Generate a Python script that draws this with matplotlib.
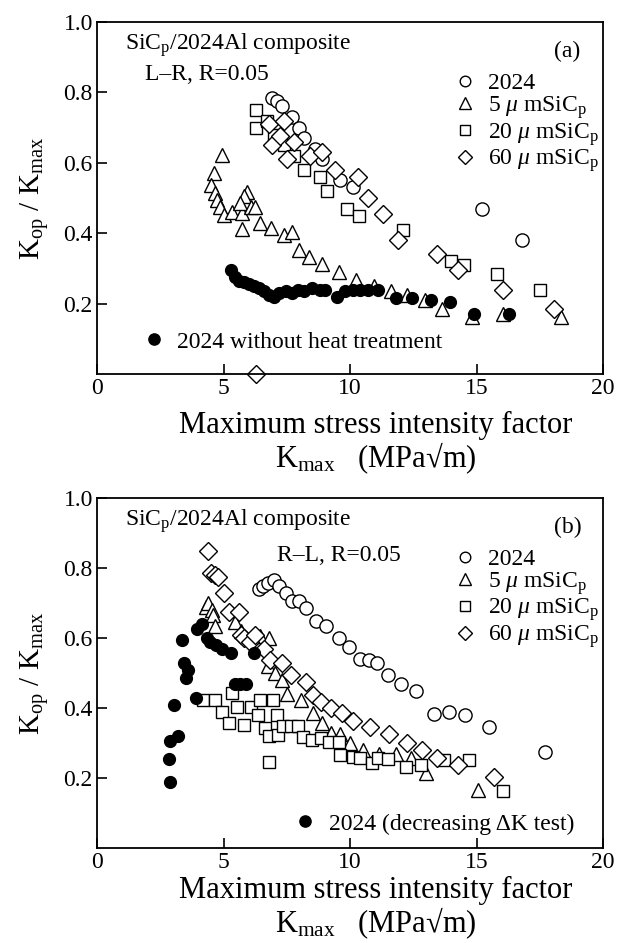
import matplotlib
matplotlib.use('Agg')
import matplotlib.pyplot as plt

plt.rcParams['font.family'] = ['Liberation Serif', 'DejaVu Serif']
plt.rcParams['mathtext.fontset'] = 'custom'
plt.rcParams['mathtext.rm'] = 'Liberation Serif'
plt.rcParams['mathtext.it'] = 'Liberation Serif:italic'
plt.rcParams['mathtext.bf'] = 'Liberation Serif:bold'

# ---- panel (a): L-R, R=0.05 ----
circles_a_x = [6.9, 7.1, 7.3, 7.7, 8.0, 8.2, 8.6, 8.9, 9.6, 10.1, 15.2, 16.8]
circles_a_y = [0.785, 0.775, 0.76, 0.73, 0.70, 0.67, 0.64, 0.61, 0.55, 0.53, 0.47, 0.38]

tri_a_x = [4.95, 4.62, 4.49, 4.68, 4.75, 4.88, 5.0, 5.34, 5.74, 5.94, 5.8, 5.67, 6.07, 6.26,
           5.74, 6.46, 6.86, 7.38, 7.71, 7.98, 8.37, 8.9, 9.56, 10.22, 10.94, 11.6, 12.26,
           12.98, 13.64, 14.83, 16.05, 18.32]
tri_a_y = [0.623, 0.57, 0.537, 0.513, 0.494, 0.475, 0.451, 0.461, 0.456, 0.518, 0.505, 0.485,
           0.475, 0.475, 0.413, 0.428, 0.414, 0.394, 0.404, 0.351, 0.332, 0.313, 0.29, 0.266,
           0.251, 0.237, 0.223, 0.209, 0.185, 0.161, 0.17, 0.161]

sq_a_x = [6.3, 6.3, 6.7, 7.0, 7.4, 7.8, 8.2, 8.8, 9.1, 9.9, 10.35, 12.1, 14.0, 14.5, 15.8, 17.5]
sq_a_y = [0.75, 0.70, 0.72, 0.68, 0.65, 0.62, 0.58, 0.56, 0.52, 0.47, 0.45, 0.41, 0.32, 0.31,
          0.285, 0.24]

dia_a_x = [6.3, 6.8, 6.9, 7.25, 7.4, 7.5, 7.8, 8.4, 8.9, 9.4, 10.3, 10.7, 11.3, 11.9, 13.45,
           14.25, 16.05, 18.05]
dia_a_y = [0.0, 0.71, 0.65, 0.675, 0.72, 0.61, 0.66, 0.62, 0.63, 0.58, 0.56, 0.50, 0.455, 0.38,
           0.34, 0.295, 0.24, 0.185]

filled_a_x = [5.3, 5.45, 5.6, 5.8, 6.0, 6.2, 6.4, 6.6, 6.8, 7.0, 7.2, 7.45, 7.7, 7.95, 8.2, 8.5,
              8.8, 9.0, 9.5, 9.8, 10.1, 10.4, 10.7, 11.1, 11.8, 12.45, 13.2, 13.95, 14.9, 16.3]
filled_a_y = [0.295, 0.275, 0.265, 0.26, 0.255, 0.25, 0.245, 0.235, 0.225, 0.22, 0.23, 0.235,
              0.23, 0.24, 0.235, 0.245, 0.24, 0.24, 0.22, 0.235, 0.24, 0.24, 0.24, 0.24, 0.215,
              0.215, 0.21, 0.205, 0.17, 0.17]

# ---- panel (b): R-L, R=0.05 ----
circles_b_x = [6.4, 6.55, 6.75, 7.0, 7.2, 7.45, 7.7, 8.0, 8.25, 8.65, 9.05, 9.55, 9.95, 10.4,
               10.75, 11.05, 11.5, 12.0, 12.6, 13.3, 13.9, 14.55, 15.5, 17.7]
circles_b_y = [0.74, 0.75, 0.757, 0.765, 0.75, 0.73, 0.705, 0.705, 0.685, 0.65, 0.635, 0.6,
               0.575, 0.54, 0.537, 0.528, 0.495, 0.47, 0.45, 0.383, 0.388, 0.38, 0.347, 0.273]

tri_b_x = [4.3, 4.4, 4.55, 4.6, 4.65, 5.45, 5.7, 6.45, 6.8, 6.75, 7.05, 7.3, 7.5, 8.05, 8.55,
           8.9, 9.25, 9.6, 10.0, 10.5, 11.15, 11.8, 12.4, 13.0, 15.05]
tri_b_y = [0.69, 0.70, 0.68, 0.665, 0.635, 0.645, 0.62, 0.605, 0.60, 0.52, 0.50, 0.48, 0.44,
           0.423, 0.385, 0.356, 0.328, 0.325, 0.30, 0.28, 0.27, 0.27, 0.256, 0.213, 0.166]

sq_b_x = [4.2, 4.65, 4.95, 5.2, 5.35, 5.55, 5.8, 6.1, 6.35, 6.45, 6.65, 6.8, 6.8, 6.95, 7.1,
          7.15, 7.35, 7.65, 7.95, 8.15, 8.5, 8.85, 9.15, 9.55, 9.6, 10.1, 10.4, 10.85, 11.1,
          11.5, 12.2, 12.8, 13.7, 14.7, 16.05]
sq_b_y = [0.423, 0.423, 0.39, 0.356, 0.442, 0.404, 0.351, 0.404, 0.38, 0.423, 0.342, 0.32,
          0.245, 0.423, 0.38, 0.323, 0.35, 0.35, 0.35, 0.318, 0.309, 0.313, 0.302, 0.304,
          0.266, 0.261, 0.256, 0.242, 0.256, 0.254, 0.232, 0.237, 0.251, 0.251, 0.163]

dia_b_x = [4.4, 4.5, 4.65, 4.8, 5.0, 5.2, 5.6, 5.7, 5.8, 6.05, 6.25, 6.6, 6.85, 7.3, 7.65, 8.25,
           8.55, 8.85, 9.25, 9.7, 10.1, 10.8, 11.55, 12.25, 12.85, 13.45, 14.25, 15.7]
dia_b_y = [0.85, 0.785, 0.78, 0.775, 0.728, 0.675, 0.675, 0.61, 0.60, 0.59, 0.61, 0.568, 0.537,
           0.53, 0.494, 0.475, 0.437, 0.418, 0.40, 0.385, 0.363, 0.345, 0.325, 0.30, 0.28,
           0.256, 0.237, 0.204]

filled_b_x = [2.9, 2.85, 2.9, 3.2, 3.05, 3.9, 3.5, 3.6, 3.45, 3.35, 3.95, 4.15, 4.35, 4.45,
              4.7, 4.95, 5.3, 6.2, 5.45, 5.65, 5.9]
filled_b_y = [0.19, 0.255, 0.305, 0.32, 0.41, 0.43, 0.485, 0.51, 0.53, 0.595, 0.625, 0.64,
              0.60, 0.59, 0.58, 0.57, 0.556, 0.556, 0.468, 0.468, 0.468]

xticks = [0, 5, 10, 15, 20]
yticks = [0.2, 0.4, 0.6, 0.8, 1.0]
open_labels = ['2024', r'5 $\mu$ mSiC$_\mathrm{p}$', r'20 $\mu$ mSiC$_\mathrm{p}$',
               r'60 $\mu$ mSiC$_\mathrm{p}$']

FS = 17


def draw_panel(ax, data, filled_label, letter, cond_text, cond_pos, filled_anchor):
    (cx, cy), (tx, ty), (sx, sy), (dx, dy), (fx, fy) = data
    kw = dict(linestyle='none', mfc='white', mec='black', mew=1.0, clip_on=False)
    h1, = ax.plot(cx, cy, marker='o', ms=9.5, **kw)
    h2, = ax.plot(tx, ty, marker='^', ms=10, **kw)
    h3, = ax.plot(sx, sy, marker='s', ms=9, **kw)
    h4, = ax.plot(dx, dy, marker='D', ms=9.5, **kw)
    hf, = ax.plot(fx, fy, marker='o', ms=8.5, linestyle='none', color='black', clip_on=False)

    ax.set_xlim(0, 20)
    ax.set_ylim(0, 1.0)
    ax.set_xticks(xticks)
    ax.set_yticks(yticks)
    ax.set_xticklabels([str(v) for v in xticks])
    ax.set_yticklabels(['%.1f' % v for v in yticks])
    ax.tick_params(direction='in', length=7, width=1.2, labelsize=FS, top=False, right=False,
                   pad=3)
    for sp in ax.spines.values():
        sp.set_linewidth(1.3)

    leg = ax.legend([h1, h2, h3, h4], open_labels, loc='upper left',
                    bbox_to_anchor=(0.685, 0.89), frameon=False, borderpad=0,
                    handlelength=0.8, handletextpad=0.6, labelspacing=0.0,
                    markerscale=0.8, fontsize=FS)
    ax.add_artist(leg)
    ax.legend([hf], [filled_label], loc='center left', bbox_to_anchor=filled_anchor,
              frameon=False, borderpad=0, handlelength=0.8, handletextpad=0.6,
              markerscale=0.95, fontsize=FS)

    ax.text(0.055, 0.935, r'SiC$_\mathrm{p}$/2024Al composite', transform=ax.transAxes,
            fontsize=FS, ha='left', va='center')
    ax.text(cond_pos[0], cond_pos[1], cond_text, transform=ax.transAxes,
            fontsize=FS, ha='left', va='center')
    ax.text(0.93, 0.915, letter, transform=ax.transAxes, fontsize=FS, ha='center', va='center')

    ax.set_xlabel('Maximum stress intensity factor\n' + r'K$_\mathrm{max}$   (MPa√m)',
                  fontsize=22, linespacing=1.0)
    ax.set_ylabel(r'K$_\mathrm{op}$ / K$_\mathrm{max}$', fontsize=21)
    ax.yaxis.set_label_coords(-0.09, 0.5)


fig = plt.figure(figsize=(6.26, 9.43), dpi=100)
ax_a = fig.add_axes([0.155, 0.6034, 0.8083, 0.3733])
ax_b = fig.add_axes([0.155, 0.1007, 0.8083, 0.3712])

draw_panel(ax_a,
           [(circles_a_x, circles_a_y), (tri_a_x, tri_a_y), (sq_a_x, sq_a_y),
            (dia_a_x, dia_a_y), (filled_a_x, filled_a_y)],
           '2024 without heat treatment', '(a)', 'L\u2013R, R=0.05', (0.095, 0.85),
           (0.07, 0.091))
ax_a.xaxis.set_label_coords(0.551, -0.105)

draw_panel(ax_b,
           [(circles_b_x, circles_b_y), (tri_b_x, tri_b_y), (sq_b_x, sq_b_y),
            (dia_b_x, dia_b_y), (filled_b_x, filled_b_y)],
           '2024 (decreasing \u0394K test)', '(b)', 'R\u2013L, R=0.05', (0.356, 0.837),
           (0.37, 0.069))
ax_b.xaxis.set_label_coords(0.551, -0.08)

fig.savefig('out.png', dpi=100)
